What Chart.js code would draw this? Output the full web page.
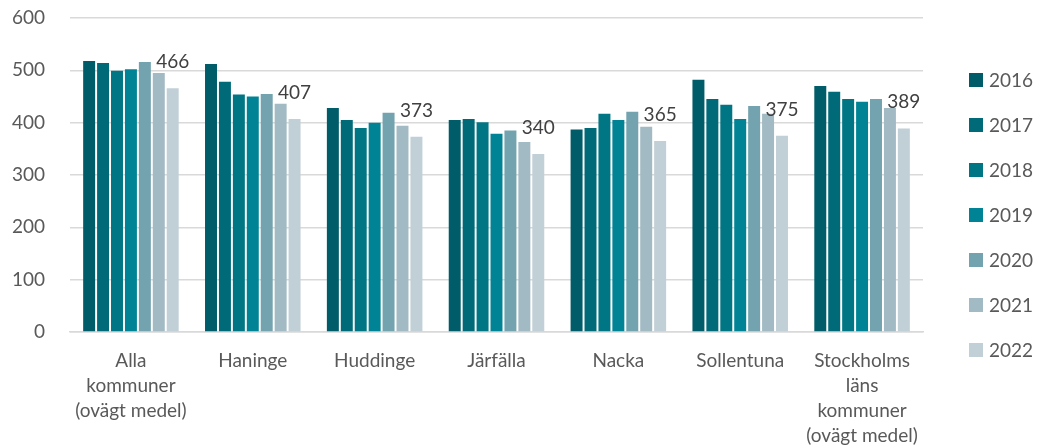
<!DOCTYPE html>
<html>
<head>
<meta charset="utf-8">
<script src="https://cdn.jsdelivr.net/npm/chart.js@4"></script>
<style>
    html, body { margin: 0; padding: 0; background: #fff; }
    #wrap { width: 1040px; height: 447px; }
</style>
</head>
<body>
<div id="wrap"><canvas id="chart" width="1040" height="447"></canvas></div>
<script>
;(function () {
    'use strict';

    var categories = [
        ['Alla', 'kommuner', '(ovägt medel)'],
        'Haninge',
        'Huddinge',
        'Järfälla',
        'Nacka',
        'Sollentuna',
        ['Stockholms', 'läns', 'kommuner', '(ovägt medel)']
    ];
    var years = ['2016', '2017', '2018', '2019', '2020', '2021', '2022'];

    var v2016 = [518, 512, 428, 405, 387, 482, 470];
    var v2017 = [514, 478, 405, 407, 390, 445, 459];
    var v2018 = [499, 454, 390, 401, 417, 434, 445];
    var v2019 = [502, 450, 400, 379, 405, 407, 440];
    var v2020 = [516, 455, 419, 385, 421, 432, 445];
    var v2021 = [495, 436, 394, 363, 392, 417, 428];
    var v2022 = [466, 407, 373, 340, 365, 375, 389];

    var yTicks = [0, 100, 200, 300, 400, 500, 600];

    var colors = ['#005c69', '#006a78', '#007685', '#008495', '#73a3ae', '#a2bac3', '#c1d0d7'];
    var series = [v2016, v2017, v2018, v2019, v2020, v2021, v2022];

    var FONT = 'Lato, "Open Sans", sans-serif';
    var TEXT = '#595959';

    var datasets = years.map(function (y, i) {
        return {
            label: y,
            data: series[i],
            backgroundColor: colors[i],
            borderWidth: 0,
            barPercentage: 0.86,
            categoryPercentage: 0.8
        };
    });

    // value labels over the last year's bars
    var lastLabels = {
        id: 'lastLabels',
        afterDatasetsDraw: function (chart) {
            var ctx = chart.ctx;
            var idx = chart.data.datasets.length - 1;
            var meta = chart.getDatasetMeta(idx);
            var vals = chart.data.datasets[idx].data;
            ctx.save();
            ctx.font = '19px ' + FONT;
            ctx.fillStyle = '#404040';
            ctx.textAlign = 'center';
            ctx.textBaseline = 'alphabetic';
            meta.data.forEach(function (bar, i) {
                ctx.fillText(String(vals[i]), bar.x, bar.y - 20);
            });
            ctx.restore();
        }
    };

    // legend at the right, one item per year
    var sideLegend = {
        id: 'sideLegend',
        afterDraw: function (chart) {
            var ctx = chart.ctx;
            ctx.save();
            ctx.font = '19px ' + FONT;
            ctx.textBaseline = 'middle';
            ctx.textAlign = 'left';
            chart.data.datasets.forEach(function (ds, i) {
                var cy = 80 + i * 45;
                ctx.fillStyle = ds.backgroundColor;
                ctx.fillRect(969, cy - 7, 14, 14);
                ctx.fillStyle = TEXT;
                ctx.fillText(ds.label, 989, cy + 1);
            });
            ctx.restore();
        }
    };

    new Chart(document.getElementById('chart'), {
        type: 'bar',
        data: { labels: categories, datasets: datasets },
        plugins: [lastLabels, sideLegend],
        options: {
            responsive: false,
            animation: false,
            layout: { padding: { top: 18, right: 117, left: 0, bottom: 0 } },
            plugins: {
                legend: { display: false },
                tooltip: { enabled: false }
            },
            scales: {
                x: {
                    grid: { display: false },
                    border: { display: true, color: '#d9d9d9', width: 1.5 },
                    ticks: {
                        color: TEXT,
                        font: { family: FONT, size: 19, lineHeight: 1.32 },
                        padding: 8,
                        maxRotation: 0,
                        autoSkip: false
                    },
                    afterFit: function (scale) {
                        scale.height = 115;
                        scale.paddingTop = 0;
                        scale.paddingBottom = 0;
                    }
                },
                y: {
                    min: 0,
                    max: 600,
                    afterBuildTicks: function (scale) {
                        scale.ticks = yTicks.map(function (v) { return { value: v }; });
                    },
                    grid: { color: '#d9d9d9', lineWidth: 1.5, drawTicks: false },
                    border: { display: false },
                    ticks: {
                        color: TEXT,
                        font: { family: FONT, size: 19 },
                        padding: 25
                    },
                    afterFit: function (scale) {
                        scale.width = 70;
                        scale.paddingTop = 0;
                        scale.paddingBottom = 0;
                    }
                }
            }
        }
    });
})();
</script>
</body>
</html>
